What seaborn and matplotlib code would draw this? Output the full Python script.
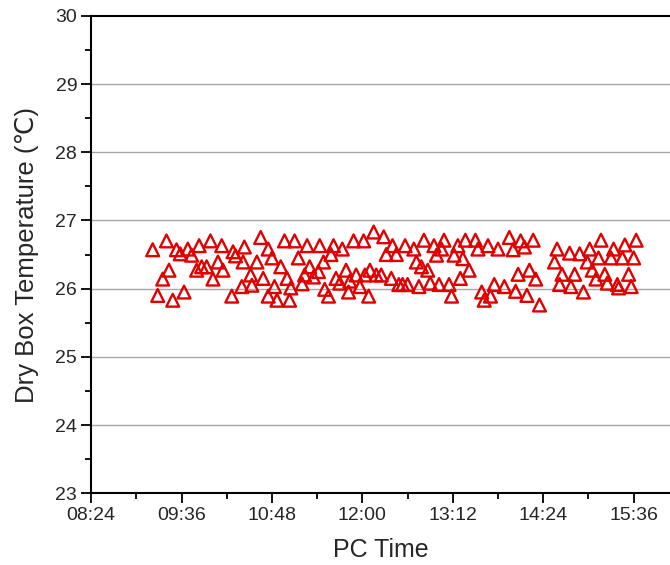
import matplotlib
matplotlib.use("Agg")
import matplotlib.pyplot as plt
import matplotlib.dates as mdates
import seaborn as sns
import pandas as pd
import numpy as np

# ---- data ----
times = [
    "09:13", "09:24", "09:32", "09:35", "09:41", "09:44", "09:50", "09:59", "10:08",
    "09:26", "09:21", "09:48", "09:52", "09:56", "10:05", "10:09", "10:01",
    "09:17", "09:29", "09:38",
    "10:39", "10:58", "11:06", "11:16", "10:17", "10:26", "10:19", "10:45", "10:48",
    "10:36", "10:25", "10:55", "11:09", "11:18", "11:14", "11:21", "10:31", "10:41",
    "11:00", "10:32", "10:24", "10:50", "11:03", "11:12", "10:45", "10:52", "11:02", "10:16",
    "12:09", "12:17", "11:53", "12:01", "11:26", "11:37", "11:44", "12:24", "12:34",
    "12:19", "12:27", "11:35", "11:29", "11:47", "11:55", "12:06", "12:02", "12:11",
    "12:15", "12:23", "11:25", "11:39", "11:42", "11:50", "11:58", "12:29", "12:32",
    "11:30", "11:49", "11:33", "12:05",
    "12:49", "13:05", "13:22", "13:30", "12:41", "12:57", "13:03", "13:16", "13:32",
    "13:40", "12:59", "13:13", "13:20", "12:43", "12:47", "12:52", "13:25", "13:18",
    "12:36", "12:45", "12:54", "13:01", "13:09", "13:11", "13:35", "13:37", "13:42",
    "13:57", "14:06", "14:16", "13:48", "14:00", "14:09", "14:35", "14:45", "14:53",
    "14:33", "14:04", "14:13", "14:18", "14:39", "14:49", "14:37", "14:46", "13:45",
    "13:53", "14:02", "14:11", "14:21",
    "15:10", "15:29", "15:38", "15:01", "15:20", "15:08", "15:18", "15:27", "15:36",
    "14:59", "15:03", "15:13", "15:32", "15:06", "15:15", "15:23", "15:34", "15:24", "14:56",
]
temps = [
    26.57, 26.70, 26.57, 26.51, 26.58, 26.49, 26.63, 26.70, 26.63,
    26.27, 26.14, 26.27, 26.32, 26.32, 26.39, 26.27, 26.14,
    25.90, 25.83, 25.95,
    26.75, 26.70, 26.70, 26.63, 26.54, 26.61, 26.48, 26.58, 26.45,
    26.39, 26.39, 26.32, 26.45, 26.32, 26.20, 26.17, 26.20, 26.15,
    26.15, 26.05, 26.03, 26.03, 26.01, 26.07, 25.89, 25.83, 25.83, 25.89,
    26.83, 26.76, 26.70, 26.70, 26.63, 26.63, 26.58, 26.63, 26.63,
    26.50, 26.50, 26.50, 26.39, 26.27, 26.20, 26.27, 26.20, 26.20,
    26.20, 26.15, 26.25, 26.15, 26.08, 26.11, 26.03, 26.06, 26.06,
    25.99, 25.95, 25.89, 25.89,
    26.71, 26.71, 26.71, 26.71, 26.58, 26.63, 26.58, 26.63, 26.58,
    26.63, 26.49, 26.49, 26.44, 26.39, 26.32, 26.27, 26.27, 26.15,
    26.06, 26.03, 26.08, 26.06, 26.06, 25.89, 25.95, 25.83, 25.89,
    26.75, 26.70, 26.71, 26.58, 26.57, 26.61, 26.58, 26.52, 26.51,
    26.39, 26.21, 26.27, 26.14, 26.21, 26.21, 26.06, 26.03, 26.06,
    26.03, 25.96, 25.90, 25.76,
    26.71, 26.64, 26.71, 26.58, 26.58, 26.45, 26.45, 26.45, 26.45,
    26.39, 26.27, 26.21, 26.21, 26.14, 26.08, 26.06, 26.03, 26.01, 25.95,
]
x_ticks = ["08:24", "09:36", "10:48", "12:00", "13:12", "14:24", "15:36"]
x_minor = ["09:00", "10:12", "11:24", "12:36", "13:48", "15:00"]
x_range = ["08:24", "16:06"]
y_ticks = [23, 24, 25, 26, 27, 28, 29, 30]

day = "2020-01-01 "
df = pd.DataFrame({"time": pd.to_datetime([day + t for t in times]),
                   "temp": temps})

sns.set_style("white")
plt.rcParams["font.family"] = ["Liberation Sans", "DejaVu Sans"]

fig = plt.figure(figsize=(6.7, 5.65), dpi=100)
ax = fig.add_axes([0.136, 0.127, 0.866, 0.845])

red = "#e00000"
sns.scatterplot(data=df, x="time", y="temp", ax=ax, marker="^", s=85,
                facecolors="none", edgecolor=red, linewidth=1.7, legend=False)

# axes limits / ticks
to_num = lambda lst: mdates.date2num(pd.to_datetime([day + t for t in lst]))
ax.set_xlim(*to_num(x_range))
ax.set_ylim(y_ticks[0], y_ticks[-1])
ax.set_xticks(to_num(x_ticks))
ax.set_xticklabels(x_ticks)
ax.set_xticks(to_num(x_minor), minor=True)
ax.set_yticks(y_ticks)
ax.set_yticks(np.arange(23.5, 30, 1.0), minor=True)

for yv in y_ticks[1:-1]:
    ax.axhline(yv, color="#a6a6a6", lw=1.0, zorder=0)

ax.tick_params(axis="both", which="major", direction="out", length=7, width=1.3,
               labelsize=14, color="black", pad=3,
               bottom=True, left=True, top=False, right=False)
ax.tick_params(axis="both", which="minor", direction="out", length=4, width=1.3,
               color="black", bottom=True, left=True, top=False, right=False)

for side in ["left", "bottom", "top"]:
    ax.spines[side].set_visible(True)
    ax.spines[side].set_color("black")
    ax.spines[side].set_linewidth(1.5)
ax.spines["right"].set_visible(False)

ax.set_xlabel("PC Time", fontsize=18, labelpad=10)
ax.set_ylabel("Dry Box Temperature (℃)", fontsize=18.5, labelpad=12)

fig.savefig("out.png", dpi=100)
